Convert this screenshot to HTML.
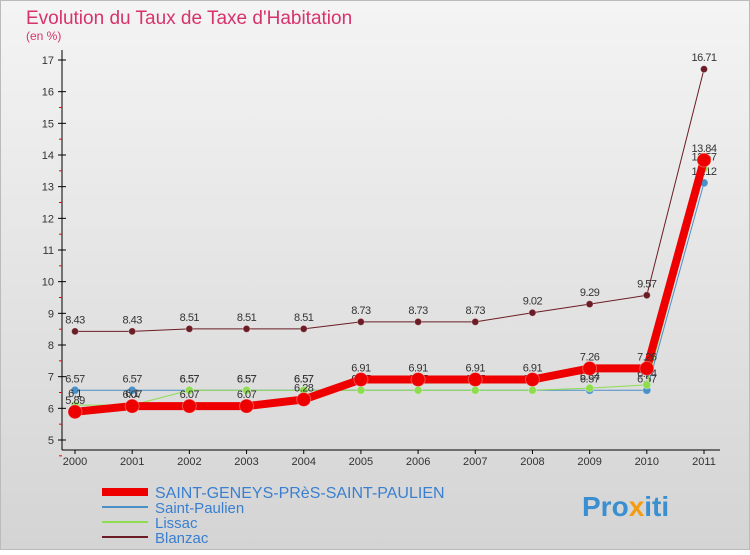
<!DOCTYPE html>
<html><head><meta charset="utf-8"><style>
body{margin:0;width:750px;height:550px;overflow:hidden;font-family:"Liberation Sans",sans-serif}
</style></head><body>
<svg id="c" width="750" height="550" xmlns="http://www.w3.org/2000/svg">
<defs><linearGradient id="bg" x1="0" y1="0" x2="0" y2="1"><stop offset="0" stop-color="#f4f4f4"/><stop offset="1" stop-color="#d4d4d4"/></linearGradient></defs>
<rect x="0.5" y="0.5" width="749" height="549" fill="url(#bg)" stroke="#bbb"/>
<text x="26" y="24" font-size="19" fill="#d6336c">Evolution du Taux de Taxe d'Habitation</text>
<text x="26" y="40" font-size="12" fill="#d6336c">(en %)</text>
<g id="axes"></g><g id="series"></g><g id="legend"></g>
<text x="582" y="516" font-size="28" font-weight="bold" fill="#3a8fd0">Pro<tspan fill="#f39c12">x</tspan>iti</text>
</svg>
<script>
const years=["2000","2001","2002","2003","2004","2005","2006","2007","2008","2009","2010","2011"];
const yTicks=[5,6,7,8,9,10,11,12,13,14,15,16,17];
const mainVals=[5.89,6.07,6.07,6.07,6.28,6.91,6.91,6.91,6.91,7.26,7.26,13.84];
const paulienVals=[6.57,6.57,6.57,6.57,6.57,6.57,6.57,6.57,6.57,6.57,6.57,13.12];
const lissacVals=[6.1,6.1,6.57,6.57,6.57,6.57,6.57,6.57,6.57,6.64,6.74,13.57];
const blanzacVals=[8.43,8.43,8.51,8.51,8.51,8.73,8.73,8.73,9.02,9.29,9.57,16.71];
const names=["SAINT-GENEYS-PRèS-SAINT-PAULIEN","Saint-Paulien","Lissac","Blanzac"];
const NS="http://www.w3.org/2000/svg";
const X=i=>75+i*(704-75)/11, Y=v=>440-(v-5)*(440-60)/12;
function mk(t,a,p){const e=document.createElementNS(NS,t);for(const k in a)e.setAttribute(k,a[k]);p.appendChild(e);return e;}
const ax=document.getElementById('axes');
const yl=mk('line',{x1:62,y1:50,x2:62,y2:450,stroke:'#000'},ax);


const xl=mk('line',{x1:62,y1:450,x2:720,y2:450,stroke:'#000'},ax);


yTicks.forEach(v=>{const y=Y(v);mk('line',{x1:58,y1:y,x2:66,y2:y,stroke:'#000'},ax);
 if(v<17)mk('line',{x1:59,y1:y-Y(5)/1+Y(4.5),x2:62,y2:y-Y(5)+Y(4.5),stroke:'#e00'},ax);
 const t=mk('text',{x:54,y:y+4,'font-size':11,'text-anchor':'end',fill:'#333'},ax);t.textContent=v;
 
 });
years.forEach((yr,i)=>{mk('line',{x1:X(i),y1:450,x2:X(i),y2:454,stroke:'#000'},ax);
 const t=mk('text',{x:X(i),y:465,'font-size':11,'text-anchor':'middle',fill:'#333'},ax);t.textContent=yr;
 
 });
const sg=document.getElementById('series');
function series(vals,col,w,r,name){const g=mk('g',{},sg);
 
 
 mk('polyline',{points:vals.map((v,i)=>X(i)+','+Y(v)).join(' '),fill:'none',stroke:col,'stroke-width':w,'stroke-linejoin':'round'},g);
 vals.forEach((v,i)=>{const c=mk('circle',{cx:X(i),cy:Y(v),r:r,fill:col,stroke:'#fff','stroke-opacity':0.3},g);
  
  
  const t=mk('text',{x:X(i),y:Y(v)-8,'font-size':11,'text-anchor':'middle',fill:'#333','letter-spacing':'-0.5'},g);t.textContent=v;
  
  });}
series(blanzacVals,'#6b1c24',1,3.5,'series-blanzac');
series(paulienVals,'#4a90c8',1,4,'series-saint-paulien');
series(lissacVals,'#8fdc50',1,4,'series-lissac');
series(mainVals,'#ee0000',8,7,'series-saint-geneys');
const lg=document.getElementById('legend');
const cols=['#ee0000','#4a90c8','#8fdc50','#6b1c24'],ws=[8,2,2,2];
names.forEach((n,i)=>{const y=492+i*15;const g=mk('g',{},lg);
 
 
 mk('line',{x1:102,y1:y,x2:148,y2:y,stroke:cols[i],'stroke-width':ws[i]},g);
 const t=mk('text',{x:155,y:y+6,'font-size':i==0?16:15,fill:'#3a7fd0'},g);t.textContent=n;});
</script>
</body></html>
